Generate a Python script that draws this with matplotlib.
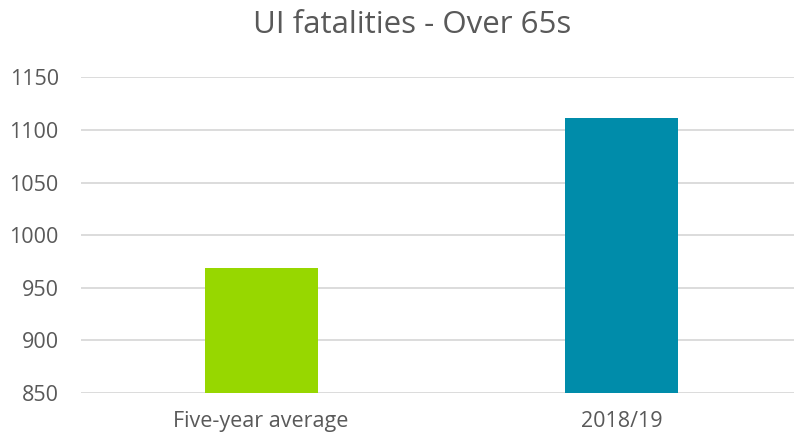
import matplotlib
matplotlib.use("Agg")
import matplotlib.pyplot as plt

categories = ["Five-year average", "2018/19"]
values = [969, 1111]
colors = ["#97D700", "#008CAA"]
yticks = [850, 900, 950, 1000, 1050, 1100, 1150]

plt.rcParams['font.family'] = ['Open Sans', 'DejaVu Sans']

fig = plt.figure(figsize=(7.94, 4.38), dpi=100)
ax = fig.add_axes([81/794, 1-393/438, 1-81/794, (393-77.4)/438])

x = list(range(len(categories)))
ax.bar(x, values, width=0.314, color=colors, zorder=3, bottom=0)
ax.set_ylim(850, 1150)
ax.set_xlim(-0.5, 1.479)
ax.set_yticks(yticks)
ax.set_xticks(x)
ax.set_xticklabels(categories)
ax.yaxis.grid(True, color="#D9D9D9", linewidth=1.3, zorder=0)
ax.set_axisbelow(True)
for s in ax.spines.values():
    s.set_visible(False)
ax.tick_params(axis='both', length=0, labelsize=15.5, colors="#595959")
ax.tick_params(axis='y', pad=16)
ax.tick_params(axis='x', pad=13)

fig.text(412/794, 1-33/438, "UI fatalities - Over 65s", ha='center', va='baseline',
         fontsize=22.5, color="#595959")

fig.savefig("out.png", dpi=100)
